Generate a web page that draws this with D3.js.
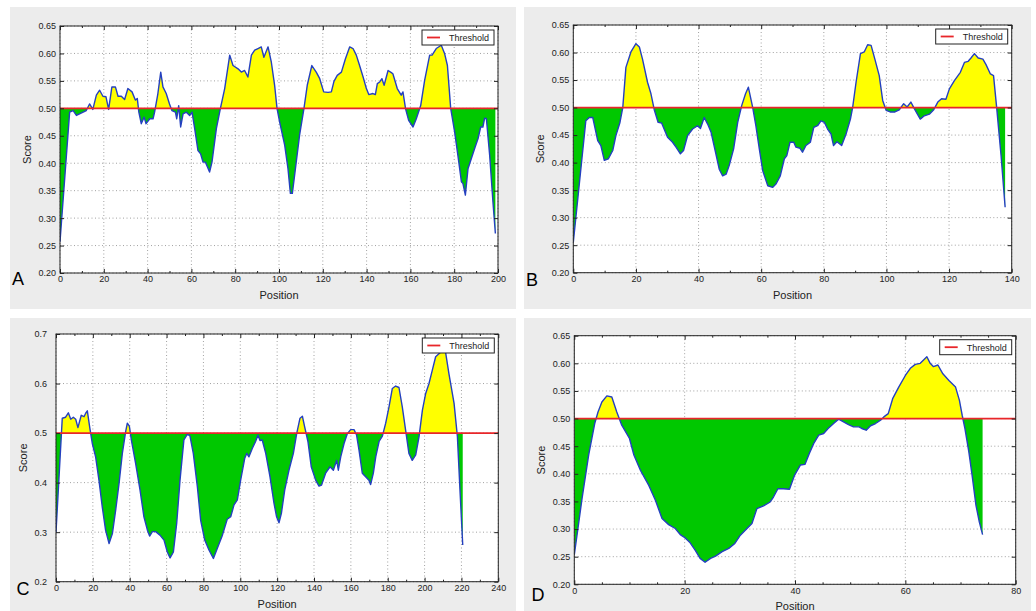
<!DOCTYPE html>
<html><head><meta charset="utf-8">
<script src="https://cdn.jsdelivr.net/npm/d3@7"></script>
<style>body{margin:0;background:#fff}svg{display:block}text{font-family:"Liberation Sans",Arial,sans-serif}</style>
</head><body><svg id="c" width="1036" height="611"></svg>
<script>
const threshold = 0.5;
// [position, score]
const dataA = [[0,0.257],[4.4,0.493],[6,0.496],[7.5,0.487],[12,0.496],[13.5,0.508],[15,0.498],[16.6,0.524],[18.1,0.533],[19.6,0.522],[21,0.521],[22.2,0.498],[23.7,0.539],[25.3,0.539],[26.5,0.522],[28,0.522],[29.5,0.516],[31,0.536],[32.9,0.530],[34.4,0.515],[35.3,0.518],[36,0.493],[37.1,0.472],[38.4,0.484],[39.3,0.472],[41,0.481],[42.5,0.481],[43.2,0.493],[44.7,0.527],[46,0.566],[47,0.539],[48.5,0.527],[50,0.508],[51.1,0.496],[52.7,0.493],[53.3,0.481],[54.2,0.505],[55.1,0.466],[56.2,0.490],[57.7,0.493],[59.2,0.487],[60.3,0.493],[61.5,0.463],[63,0.423],[64.2,0.417],[65.3,0.402],[66.4,0.402],[68.3,0.384],[69.4,0.402],[71.4,0.463],[73.2,0.499],[75.2,0.536],[77.5,0.597],[79,0.578],[81.3,0.572],[82.8,0.566],[84.3,0.569],[85.8,0.557],[87.4,0.597],[88.9,0.606],[90.4,0.609],[91.9,0.612],[93.1,0.593],[95,0.612],[96.5,0.584],[98,0.542],[99.1,0.5],[100.3,0.475],[102.6,0.433],[104.1,0.390],[105.2,0.345],[106.1,0.345],[107.5,0.390],[109.4,0.451],[111.4,0.5],[112.9,0.542],[115,0.578],[117,0.566],[118.6,0.554],[120.4,0.530],[122.4,0.529],[123.9,0.530],[125.1,0.549],[126.6,0.560],[128.5,0.566],[130.3,0.590],[132.3,0.612],[133.8,0.609],[135.3,0.597],[136.8,0.578],[138.4,0.557],[139.9,0.536],[141,0.525],[142.9,0.527],[144,0.525],[144.9,0.545],[146,0.548],[147,0.554],[148,0.542],[149.8,0.569],[151.3,0.565],[152,0.563],[154,0.536],[155.8,0.524],[156.6,0.530],[157.8,0.499],[159.2,0.478],[161.2,0.466],[162.7,0.481],[164.7,0.505],[166.5,0.551],[168.8,0.597],[169.9,0.597],[171.8,0.609],[174.1,0.615],[175.6,0.600],[176.9,0.578],[178.4,0.5],[180.2,0.457],[181.7,0.414],[183.3,0.366],[184,0.363],[185.1,0.342],[186.3,0.390],[187.8,0.408],[189.6,0.430],[190.9,0.445],[192.1,0.466],[193.1,0.466],[193.9,0.482],[194.7,0.481],[196.2,0.414],[197.7,0.329],[198.8,0.272]];
const dataB = [[0,0.255],[4,0.476],[5.1,0.482],[6.2,0.482],[7.8,0.440],[8.8,0.431],[9.9,0.404],[11.2,0.407],[12.6,0.422],[13.6,0.449],[14.9,0.473],[15.8,0.5],[16.8,0.573],[18.4,0.601],[20,0.616],[21.1,0.610],[22.1,0.588],[23.7,0.546],[24.8,0.525],[25.9,0.495],[27.1,0.473],[28.2,0.472],[30.1,0.446],[31.7,0.437],[32.8,0.428],[34.2,0.416],[35.2,0.422],[36.5,0.449],[38.1,0.461],[39.7,0.467],[40.6,0.462],[41.8,0.482],[42.9,0.470],[44,0.455],[45.3,0.422],[46.6,0.388],[47.7,0.376],[48.8,0.379],[49.8,0.395],[51.2,0.425],[52.5,0.473],[53.8,0.504],[55,0.525],[55.9,0.537],[57.3,0.5],[58.3,0.467],[59.4,0.425],[60.5,0.385],[62.1,0.358],[63.7,0.355],[64.7,0.361],[66.1,0.376],[67.4,0.407],[68.2,0.413],[69.2,0.437],[70.4,0.437],[71.1,0.428],[72.4,0.426],[73.2,0.419],[74.3,0.431],[75.7,0.437],[76.8,0.464],[78,0.467],[79.1,0.476],[80.2,0.473],[81.2,0.461],[82.3,0.452],[83.1,0.431],[84.2,0.438],[85.7,0.431],[87.1,0.452],[88.5,0.479],[89.2,0.5],[90.3,0.546],[91.7,0.598],[92.9,0.601],[94,0.614],[95.1,0.613],[96.3,0.588],[97.7,0.558],[98.8,0.513],[99.9,0.495],[101.2,0.492],[102.7,0.492],[104.1,0.496],[105.5,0.507],[106.6,0.501],[107.8,0.510],[108.9,0.498],[110.8,0.479],[112.1,0.485],[113.7,0.488],[115.1,0.496],[116.4,0.510],[117.6,0.516],[119,0.515],[120.1,0.534],[121.7,0.549],[123.6,0.564],[124.9,0.582],[126.1,0.584],[127,0.590],[128.1,0.598],[129.3,0.590],[130.8,0.588],[131.8,0.578],[133.2,0.561],[134.2,0.558],[135.2,0.5],[136.6,0.413],[137.9,0.319]];
const dataC = [[0,0.300],[3.4,0.530],[5.2,0.532],[6.7,0.541],[8,0.528],[9.4,0.532],[10.7,0.528],[11.9,0.511],[13.7,0.536],[15.2,0.533],[16.1,0.540],[17,0.545],[18.4,0.509],[19.7,0.479],[21.5,0.452],[23.3,0.405],[25.1,0.351],[26.9,0.304],[28.8,0.277],[30.6,0.297],[32.4,0.345],[34.2,0.398],[36,0.459],[37.8,0.503],[38.7,0.520],[39.8,0.514],[40.9,0.486],[43.2,0.439],[45.6,0.385],[47.7,0.331],[49.6,0.304],[50.8,0.292],[52.3,0.301],[54.1,0.301],[56.4,0.294],[58.6,0.284],[60.4,0.260],[61.9,0.248],[63.7,0.260],[65.5,0.318],[67.3,0.405],[69.4,0.486],[71.3,0.498],[72.7,0.494],[74.5,0.459],[76.7,0.392],[78.5,0.324],[80.7,0.284],[83,0.264],[85.4,0.247],[87.5,0.267],[90.3,0.294],[92.9,0.326],[94.8,0.331],[96.6,0.355],[98.4,0.365],[100.2,0.405],[102.4,0.449],[103.5,0.459],[104.7,0.452],[106.5,0.469],[108.3,0.483],[109.6,0.496],[110.7,0.485],[111.9,0.486],[113.8,0.459],[116.1,0.412],[118.3,0.358],[119.7,0.331],[121,0.319],[122.3,0.338],[124.1,0.385],[126.4,0.425],[128.8,0.459],[130.6,0.499],[132.4,0.530],[133.7,0.534],[134.9,0.513],[136.7,0.483],[138.5,0.432],[140.9,0.405],[142.7,0.393],[144.1,0.395],[146.3,0.419],[148.7,0.432],[150.5,0.425],[152.3,0.445],[153.2,0.425],[154.5,0.452],[156.3,0.479],[158.1,0.499],[159.9,0.507],[161.7,0.507],[163.1,0.496],[164.4,0.466],[166.2,0.419],[168,0.412],[169.8,0.405],[170.7,0.396],[172.2,0.419],[173.5,0.452],[175.3,0.483],[177.1,0.494],[178.9,0.520],[180.7,0.553],[182.5,0.590],[184.3,0.595],[186.1,0.592],[187.9,0.553],[189.7,0.506],[191.5,0.459],[193.3,0.445],[195.2,0.456],[197,0.493],[198.8,0.546],[200.6,0.580],[202.4,0.600],[204.2,0.627],[206,0.654],[208.7,0.663],[211.4,0.663],[213.2,0.620],[216,0.560],[217.8,0.493],[219.2,0.385],[220.7,0.274]];
const dataD = [[0,0.253],[1.4,0.355],[2.6,0.434],[3.7,0.491],[4.3,0.512],[5,0.530],[5.9,0.541],[6.8,0.539],[7.7,0.512],[8.6,0.488],[10,0.464],[10.8,0.434],[12,0.406],[13.5,0.379],[14.7,0.352],[15.9,0.319],[17.1,0.308],[18.3,0.301],[19.2,0.290],[20.1,0.284],[21,0.275],[21.9,0.262],[22.8,0.247],[23.7,0.240],[24.7,0.247],[25.6,0.251],[26.8,0.259],[28,0.265],[29.1,0.274],[30.1,0.289],[31.3,0.301],[32.2,0.310],[33.1,0.337],[34.3,0.342],[35.5,0.349],[36.1,0.358],[36.9,0.373],[37.9,0.373],[39,0.372],[39.9,0.397],[41,0.416],[41.8,0.417],[42.6,0.437],[43.4,0.455],[44.3,0.470],[45.2,0.473],[46,0.482],[47,0.491],[47.9,0.499],[48.8,0.494],[49.7,0.489],[50.6,0.485],[51.6,0.485],[52.1,0.482],[52.9,0.479],[53.7,0.487],[54.6,0.491],[55.5,0.497],[56.1,0.503],[56.9,0.509],[57.7,0.536],[58.8,0.557],[60,0.578],[60.9,0.591],[61.8,0.598],[62.7,0.600],[63.3,0.606],[63.9,0.612],[64.5,0.600],[65.1,0.594],[65.9,0.597],[66.8,0.581],[67.9,0.569],[69.1,0.557],[69.8,0.533],[70.3,0.506],[70.8,0.482],[71.5,0.440],[72.1,0.397],[72.8,0.343],[73.4,0.313],[74,0.290]];

const xTicksA = [0,20,40,60,80,100,120,140,160,180,200];
const xTicksB = [0,20,40,60,80,100,120,140];
const xTicksC = [0,20,40,60,80,100,120,140,160,180,200,220,240];
const xTicksD = [0,20,40,60,80];
const yTicks65 = [0.20,0.25,0.30,0.35,0.40,0.45,0.50,0.55,0.60,0.65];
const yTicks70 = [0.2,0.3,0.4,0.5,0.6,0.7];

const panels = [
  {id:'A', data:dataA, xd:[0,200], xt:xTicksA, minor:10, yd:[0.2,0.65], yt:yTicks65, fmt:'.2f', ypad:4,
   bg:[10,7,506,302], l:60, r:498, t:26, b:273, letter:[18,278]},
  {id:'B', data:dataB, xd:[0,140], xt:xTicksB, minor:10, yd:[0.2,0.65], yt:yTicks65, fmt:'.2f', ypad:4,
   bg:[524,7,507,302], l:573.3, r:1011.7, t:25, b:272.7, letter:[532,279]},
  {id:'C', data:dataC, xd:[0,240], xt:xTicksC, minor:10, yd:[0.2,0.7], yt:yTicks70, fmt:'.1f', ypad:9,
   bg:[10,318,506,293], l:56, r:498.3, t:334, b:581.7, letter:[23,588]},
  {id:'D', data:dataD, xd:[0,80], xt:xTicksD, minor:5, yd:[0.2,0.65], yt:yTicks65, fmt:'.2f', ypad:4,
   bg:[524,318,507,293], l:574.3, r:1015.7, t:335.7, b:584.3, letter:[538,594]}
];

const svg = d3.select('#c');
const defs = svg.append('defs');

panels.forEach(p => {
  const g = svg.append('g');
  g.append('rect').attr('x',p.bg[0]).attr('y',p.bg[1]).attr('width',p.bg[2]).attr('height',p.bg[3]).attr('fill','#ececec');
  const x = d3.scaleLinear().domain(p.xd).range([p.l,p.r]);
  const y = d3.scaleLinear().domain(p.yd).range([p.b,p.t]);
  g.append('rect').attr('x',p.l).attr('y',p.t).attr('width',p.r-p.l).attr('height',p.b-p.t).attr('fill','#fff');

  // grid
  g.append('g').selectAll('line').data(p.xt).join('line')
    .attr('x1',d=>x(d)).attr('x2',d=>x(d)).attr('y1',p.t).attr('y2',p.b)
    .attr('stroke','#8a8a8a').attr('stroke-width',0.8).attr('stroke-dasharray','1,2.5');
  g.append('g').selectAll('line').data(p.yt).join('line')
    .attr('x1',p.l).attr('x2',p.r).attr('y1',d=>y(d)).attr('y2',d=>y(d))
    .attr('stroke','#8a8a8a').attr('stroke-width',0.8).attr('stroke-dasharray','1,2.5');

  // clips
  const yt = y(threshold);
  defs.append('clipPath').attr('id','above'+p.id).append('rect')
    .attr('x',p.l).attr('y',p.t).attr('width',p.r-p.l).attr('height',yt-p.t);
  defs.append('clipPath').attr('id','below'+p.id).append('rect')
    .attr('x',p.l).attr('y',yt).attr('width',p.r-p.l).attr('height',p.b-yt);
  defs.append('clipPath').attr('id','plot'+p.id).append('rect')
    .attr('x',p.l).attr('y',p.t).attr('width',p.r-p.l).attr('height',p.b-p.t);

  const area = d3.area().x(d=>x(d[0])).y0(yt).y1(d=>y(d[1]));
  g.append('path').datum(p.data).attr('d',area).attr('fill','#ffff00').attr('clip-path','url(#above'+p.id+')');
  g.append('path').datum(p.data).attr('d',area).attr('fill','#00c800').attr('clip-path','url(#below'+p.id+')');
  const line = d3.line().x(d=>x(d[0])).y(d=>y(d[1]));
  g.append('path').datum(p.data).attr('d',line).attr('fill','none').attr('stroke','#2440c0')
    .attr('stroke-width',1.4).attr('stroke-linejoin','round').attr('clip-path','url(#plot'+p.id+')');
  g.append('line').attr('x1',p.l).attr('x2',p.r).attr('y1',yt).attr('y2',yt)
    .attr('stroke','#e8262a').attr('stroke-width',1.8);

  // axes
  const minorVals = d3.range(p.xd[0], p.xd[1]+0.001, p.minor).filter(v=>!p.xt.includes(v));
  const styleAxis = a => { a.select('.domain').remove(); a.selectAll('line').attr('stroke','#222');
    a.selectAll('text').attr('font-family','"Liberation Sans",Arial,sans-serif').attr('font-size',9).attr('fill','#222'); };
  g.append('g').attr('transform',`translate(0,${p.b})`)
    .call(d3.axisBottom(x).tickValues(p.xt).tickSize(-4).tickPadding(3).tickFormat(d3.format('d'))).call(styleAxis);
  g.append('g').attr('transform',`translate(0,${p.b})`)
    .call(d3.axisBottom(x).tickValues(minorVals).tickSize(-2).tickFormat('')).call(styleAxis);
  g.append('g').attr('transform',`translate(0,${p.t})`)
    .call(d3.axisTop(x).tickValues(p.xt).tickSize(-4).tickFormat('')).call(styleAxis);
  g.append('g').attr('transform',`translate(0,${p.t})`)
    .call(d3.axisTop(x).tickValues(minorVals).tickSize(-2).tickFormat('')).call(styleAxis);
  g.append('g').attr('transform',`translate(${p.l},0)`)
    .call(d3.axisLeft(y).tickValues(p.yt).tickSize(-4).tickPadding(p.ypad).tickFormat(d3.format(p.fmt))).call(styleAxis);
  g.append('g').attr('transform',`translate(${p.r},0)`)
    .call(d3.axisRight(y).tickValues(p.yt).tickSize(-4).tickFormat('')).call(styleAxis);

  // spine
  g.append('rect').attr('x',p.l).attr('y',p.t).attr('width',p.r-p.l).attr('height',p.b-p.t)
    .attr('fill','none').attr('stroke','#222').attr('stroke-width',1);

  // labels
  g.append('text').attr('x',(p.l+p.r)/2).attr('y',p.b+26).attr('text-anchor','middle')
    .attr('font-size',11).attr('fill','#222').text('Position');
  g.append('text').attr('transform',`translate(${p.l-29},${(p.t+p.b)/2}) rotate(-90)`).attr('text-anchor','middle')
    .attr('font-size',11).attr('fill','#222').text('Score');
  g.append('text').attr('x',p.letter[0]).attr('y',p.letter[1]+6.5).attr('text-anchor','middle')
    .attr('font-size',18).attr('fill','#000').text(p.id);

  // legend
  const lx = p.r-76, ly = p.t+4;
  g.append('rect').attr('x',lx).attr('y',ly).attr('width',72).attr('height',15)
    .attr('fill','#fff').attr('stroke','#222').attr('stroke-width',1);
  g.append('line').attr('x1',lx+5).attr('x2',lx+18).attr('y1',ly+7.5).attr('y2',ly+7.5)
    .attr('stroke','#e8262a').attr('stroke-width',1.8);
  g.append('text').attr('x',lx+27).attr('y',ly+10.8).attr('font-size',9).attr('fill','#222').text('Threshold');
});
</script></body></html>
